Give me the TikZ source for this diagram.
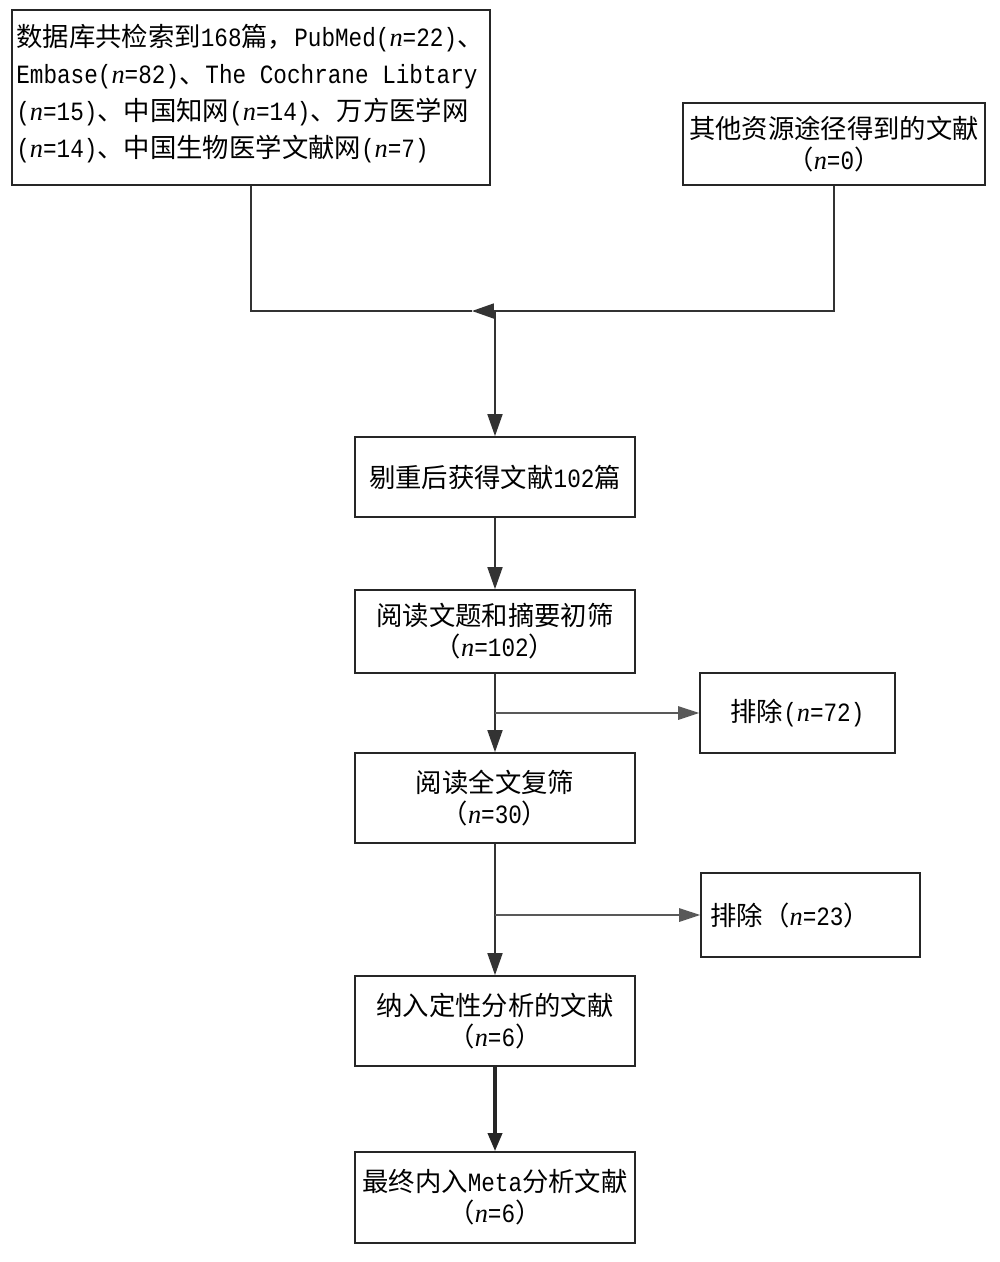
\documentclass[tikz,border=0pt]{standalone}
\usepackage{fontspec}
\setmainfont{Noto Sans CJK SC}
\newfontfamily\lat{Liberation Mono}[FakeStretch=0.86]
\newfontfamily\lser{Liberation Serif}
\newcommand\nv{{\lser\itshape n}}
\usetikzlibrary{arrows.meta}
\tikzset{
  box/.style={draw=black!85, line width=1pt, fill=white, inner sep=0pt, align=center,
    font=\fontsize{15}{17.6}\selectfont},
  conn/.style={draw=black!80, line width=1pt},
  sideconn/.style={draw=black!65, line width=0.8pt, -{Triangle[length=0.42cm,width=0.27cm]}},
  downarr/.style={conn, -{Triangle[length=0.44cm,width=0.3cm]}},
  thickarr/.style={draw=black!85, line width=2pt, -{Triangle[length=0.36cm,width=0.28cm]}}
}
\begin{document}
\begin{tikzpicture}[x=0.02cm,y=-0.02cm]
\useasboundingbox (0,0) rectangle (1000,1262);
\fill[white] (0,0) rectangle (1000,1262);

\node[box, minimum width=9.56cm, minimum height=3.5cm] (b1) at (251,97.5) {};
\node[anchor=north west, inner sep=0pt, align=left,
  font=\fontsize{15}{21}\selectfont] (t1) at (16,24)
  {数据库共检索到{\lat 168}篇，{\lat PubMed(}\nv{\lat =22)}、\\
   {\lat Embase(}\nv{\lat =82)}、{\lat The Cochrane Libtary}\\
   {\lat (}\nv{\lat =15)}、中国知网{\lat (}\nv{\lat =14)}、万方医学网\\
   {\lat (}\nv{\lat =14)}、中国生物医学文献网{\lat (}\nv{\lat =7)}};

\node[box, minimum width=6.04cm, minimum height=1.64cm] (b2) at (834,144)
  {其他资源途径得到的文献\\（\nv{\lat =0}）};

\node[box, minimum width=5.6cm, minimum height=1.6cm] (b3) at (495,477)
  {剔重后获得文献{\lat 102}篇};

\node[box, minimum width=5.6cm, minimum height=1.66cm] (b4) at (495,631.5)
  {阅读文题和摘要初筛\\（\nv{\lat =102}）};

\node[box, minimum width=3.9cm, minimum height=1.6cm] (e1) at (797.5,713)
  {排除{\lat (}\nv{\lat =72)}};

\node[box, minimum width=5.6cm, minimum height=1.8cm] (b5) at (495,798)
  {阅读全文复筛\\（\nv{\lat =30}）};

\node[box, minimum width=4.38cm, minimum height=1.68cm, text width=4.0cm, align=left] (e2) at (810.5,915)
  {排除（\nv{\lat =23}）};

\node[box, minimum width=5.6cm, minimum height=1.8cm] (b6) at (495,1021)
  {纳入定性分析的文献\\（\nv{\lat =6}）};

\node[box, minimum width=5.6cm, minimum height=1.82cm] (b7) at (495,1197.5)
  {最终内入{\lat Meta}分析文献\\（\nv{\lat =6}）};

\coordinate (jl) at (472,311);
\coordinate (j) at (b3.north |- jl);

\draw[conn] (b1.south) |- (jl);
\draw[conn, -{Triangle[length=0.44cm,width=0.3cm]}] (b2.south) |- (jl);
\draw[downarr] (j) -- (b3.north);
\draw[downarr] (b3.south) -- (b4.north);
\draw[downarr] (b4.south) -- (b5.north);
\draw[downarr] (b5.south) -- (b6.north);
\draw[thickarr] (b6.south) -- (b7.north);
\draw[sideconn] (b4.south |- e1.west) -- (e1.west);
\draw[sideconn] (b5.south |- e2.west) -- (e2.west);
\end{tikzpicture}
\end{document}
